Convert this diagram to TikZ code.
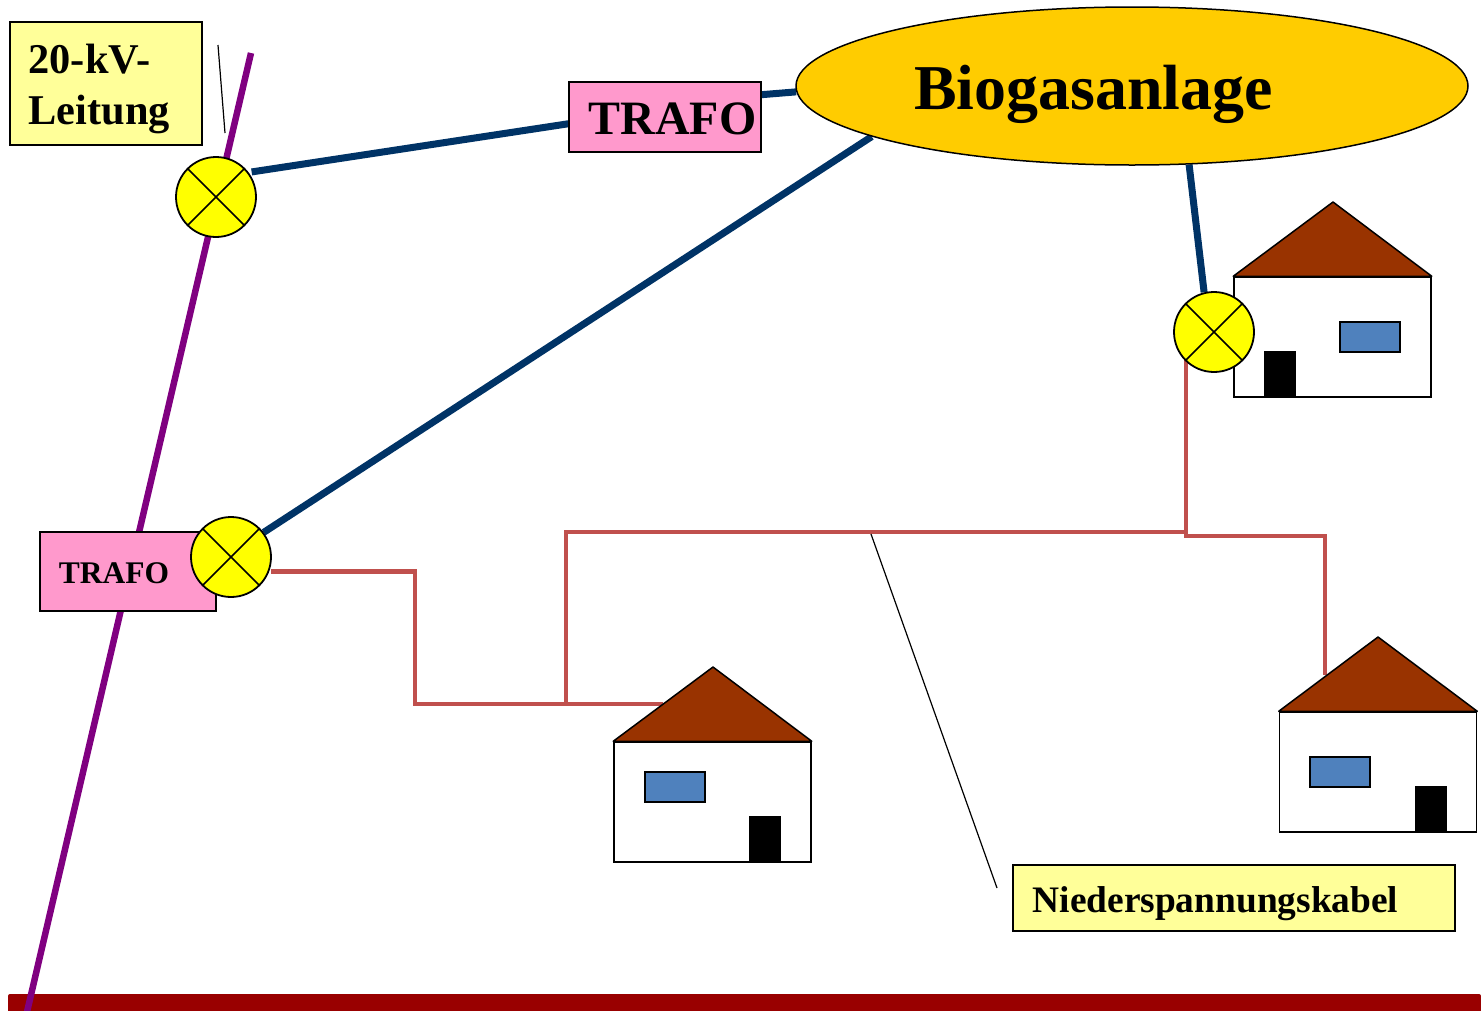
\documentclass[tikz,border=0pt]{standalone}
\usepackage{fontspec}
\setmainfont{Liberation Serif}
\usetikzlibrary{shapes.geometric,backgrounds}
\definecolor{boxyellow}{HTML}{FFFF99}
\definecolor{boxpink}{HTML}{FF99CC}
\definecolor{plantgold}{HTML}{FFCC00}
\definecolor{lampyellow}{HTML}{FFFF00}
\definecolor{mvblue}{HTML}{003366}
\definecolor{lvred}{HTML}{C0504D}
\definecolor{hvpurple}{HTML}{800080}
\definecolor{roofbrown}{HTML}{993300}
\definecolor{winblue}{HTML}{4F81BD}
\definecolor{barred}{HTML}{990000}
\tikzset{
  x=1pt,y=-1pt,
  lamp/.style={circle,draw=black,line width=1.8pt,fill=lampyellow,minimum size=80pt,inner sep=0pt,
    path picture={\draw[black,line width=1.6pt]
      (path picture bounding box.center)+(-28,-28) -- +(28,28)
      (path picture bounding box.center)+(-28,28) -- +(28,-28);}},
  labelbox/.style={rectangle,draw=black,line width=1.5pt,fill=boxyellow,inner sep=0pt,font=\bfseries},
  trafobox/.style={rectangle,draw=black,line width=1.5pt,fill=boxpink,inner sep=0pt,font=\bfseries},
  housebody/.style={rectangle,draw=black,line width=1.5pt,fill=white,minimum width=197pt,minimum height=120pt,inner sep=0pt},
  roofshape/.style={draw=black,line width=1.5pt,fill=roofbrown,line join=round},
  windowbox/.style={rectangle,draw=black,line width=1.5pt,fill=winblue,minimum width=60pt,minimum height=30pt,inner sep=0pt},
  doorbox/.style={rectangle,fill=black,minimum width=32pt,minimum height=46pt,inner sep=0pt},
  mvline/.style={draw=mvblue,line width=7pt},
  lvline/.style={draw=lvred,line width=4.5pt,line join=miter},
  hvline/.style={draw=hvpurple,line width=6.5pt},
  callout/.style={draw=black,line width=1.2pt},
}
\begin{document}
\begin{tikzpicture}
\path[use as bounding box,clip] (0,0) rectangle (1481,1010);

% plant and transformers
\node[ellipse,draw=black,line width=1.5pt,fill=plantgold,minimum width=672pt,minimum height=158pt,inner sep=0pt,text height=47pt,text depth=0pt,font=\bfseries\fontsize{63.9}{70}\selectfont] (plant) at (1132,86) {Biogasanlage\hspace{77pt}\mbox{}};
\node[trafobox,minimum width=192pt,minimum height=70pt,text height=35pt,text depth=0pt,font=\bfseries\fontsize{47.9}{50}\selectfont] (trafoA) at (665,117) {\hspace{15pt}TRAFO};
\node[trafobox,minimum width=176pt,minimum height=79pt,text height=24.5pt,text depth=0pt,font=\bfseries\fontsize{31.5}{34}\selectfont] (trafoB) at (128,571.5) {TRAFO\hspace{28pt}\mbox{}};

% labels
\node[labelbox,text width=155pt,align=left,inner xsep=18.5pt,minimum height=123pt,font=\bfseries\fontsize{42.4}{51}\selectfont] (lblHV) at (106,83.5) {\rule{0pt}{40.4pt}20-kV-\\Leitung};
\node[labelbox,minimum width=442pt,minimum height=66pt,text height=28pt,text depth=0pt,font=\bfseries\fontsize{37.4}{40}\selectfont] (lblLV) at (1234,898) {Niederspannungskabel\hspace{37pt}\mbox{}};

% house 1
\node[housebody] (houseA) at (712.5,802) {};
\coordinate (apexA) at (713,667);
\draw[roofshape] (houseA.north west) -- (apexA) -- (houseA.north east) -- cycle;
\node[windowbox] (winA) at (675,787) {};
\node[doorbox] (doorA) at (765,839) {};
% house 2
\node[housebody] (houseB) at (1378,772) {};
\coordinate (apexB) at (1378,637);
\draw[roofshape] (houseB.north west) -- (apexB) -- (houseB.north east) -- cycle;
\node[windowbox] (winB) at (1340,772) {};
\node[doorbox] (doorB) at (1431,809) {};
% house 3
\node[housebody] (houseC) at (1332.5,337) {};
\coordinate (apexC) at (1333,202);
\draw[roofshape] (houseC.north west) -- (apexC) -- (houseC.north east) -- cycle;
\node[windowbox] (winC) at (1370,337) {};
\node[doorbox] (doorC) at (1280,374) {};

% switches
\node[lamp] (lampA) at (216,197) {};
\node[lamp] (lampB) at (231,557) {};
\node[lamp] (lampC) at (1214,332) {};

% free ends
\coordinate (hvTop) at (251,53);
\coordinate (hvBottom) at (27,1012);
\coordinate (hvTickA) at (218,45);
\coordinate (hvTickB) at (225,133);
\coordinate (roofTapA) at (663,704);
\coordinate (roofTapB) at (1325,675);
\coordinate (jA) at (415,571.5);
\coordinate (jB) at (415,704);
\coordinate (jC) at (566,704);
\coordinate (jD) at (566,532);
\coordinate (jE) at (1186,532);
\coordinate (jF) at (1186,536);
\coordinate (jG) at (1325,536);
\coordinate (lampBout) at (271,571.5);
\coordinate (lampCout) at (1186,360);
\coordinate (lvTickA) at (871,534);
\coordinate (lvTickB) at (997,888);

\begin{scope}[on background layer]
  \node[rectangle,fill=barred,rounded corners=2pt,minimum width=1473pt,minimum height=26pt,inner sep=0pt] (bar) at (744.5,1007) {};
  \draw[hvline] (hvTop) -- (hvBottom);
  \draw[mvline,shorten <=3pt] (lampA.37) -- (trafoA.184.2);
  \draw[mvline] (trafoA.13.4) -- (plant.181);
  \draw[mvline] (lampB.37) -- (plant.191.2);
  \draw[mvline] (plant.306.3) -- (lampC.104);
  \draw[lvline] (lampBout) -- (jA) -- (jB) -- (roofTapA);
  \draw[lvline] (jC) -- (jD) -- (jE) -- (lampCout);
  \draw[lvline] (jE) -- (jF) -- (jG) -- (roofTapB);
\end{scope}
\draw[callout] (hvTickA) -- (hvTickB);
\draw[callout] (lvTickA) -- (lvTickB);
\end{tikzpicture}
\end{document}
